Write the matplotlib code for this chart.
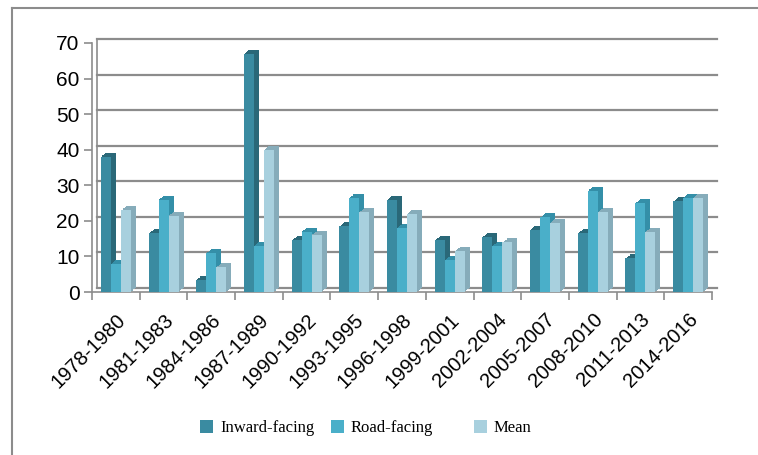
import matplotlib
matplotlib.use("Agg")
import matplotlib.pyplot as plt
import numpy as np
from matplotlib.transforms import offset_copy
from matplotlib.patches import Patch
from matplotlib.lines import Line2D

periods = ["1978-1980", "1981-1983", "1984-1986", "1987-1989", "1990-1992",
           "1993-1995", "1996-1998", "1999-2001", "2002-2004", "2005-2007",
           "2008-2010", "2011-2013", "2014-2016"]
inward = [38, 16.5, 3.5, 67, 14.5, 18.5, 26, 14.5, 15.5, 17.5, 16.5, 9.5, 25.5]
road = [8, 26, 11, 13, 17, 26.5, 18, 9, 13, 21, 28.5, 25, 26.5]
mean = [23, 21.5, 7, 40, 16, 22.5, 22, 11.5, 14, 19.5, 22.5, 17, 26.5]
series_names = ["Inward-facing", "Road-facing", "Mean"]
yticks = [0, 10, 20, 30, 40, 50, 60, 70]

front_cols = ["#3A8BA1", "#4AAFC9", "#A8D0DE"]
side_cols = ["#2A6878", "#348FA8", "#86ACBA"]

W, H = 758, 455
fig = plt.figure(figsize=(W / 100, H / 100), dpi=100)
ax = fig.add_axes([92 / W, 1 - 292 / H, 620 / W, 249 / H])
ax.set_xlim(-0.5, len(periods) - 0.5)
ax.set_ylim(0, 70)
for s in ax.spines.values():
    s.set_visible(False)

dx, dy = 5, 4  # depth in pixels
grid_tr = offset_copy(ax.get_yaxis_transform(), fig=fig, x=dx, y=dy, units='dots')
for v in yticks:
    ax.plot([0, 1], [v, v], color="#8C8C8C", lw=1.6, transform=grid_tr, zorder=0, clip_on=False)
# back wall left edge
ax.plot([0, 0], [0, 70], color="#8C8C8C", lw=1.2, transform=grid_tr, zorder=0, clip_on=False)
# front axis lines
ax.plot([0, 0], [0, 70], color="#8C8C8C", lw=1.2, transform=ax.get_yaxis_transform(), zorder=0, clip_on=False)
ax.plot([0, 1], [0, 0], color="#8C8C8C", lw=1.2, transform=ax.get_yaxis_transform(), zorder=0, clip_on=False)

x = np.arange(len(periods))
bw = 0.21
offsets = [-bw, 0, bw]
data = [inward, road, mean]
nsteps = 6
for i, (vals, off) in enumerate(zip(data, offsets)):
    for k in range(nsteps, 0, -1):
        tr = offset_copy(ax.transData, fig=fig, x=dx * k / nsteps, y=dy * k / nsteps, units='dots')
        ax.bar(x + off, vals, width=bw, color=side_cols[i], transform=tr, zorder=2 + i * 2, linewidth=0)
    ax.bar(x + off, vals, width=bw, color=front_cols[i], zorder=3 + i * 2, linewidth=0)

ax.set_yticks(yticks)
ax.set_yticklabels([str(v) for v in yticks], fontsize=15, family="Liberation Sans")
ax.tick_params(axis='y', length=6, color="#8C8C8C", width=1.2, pad=3)

ax.set_xticks(x)
ax.set_xticklabels(periods, rotation=45, ha='right', rotation_mode='anchor',
                   fontsize=14.5, family="Liberation Sans")
ax.tick_params(axis='x', which='major', length=0, pad=13)
ax.set_xticks(np.arange(len(periods) + 1) - 0.5, minor=True)
ax.tick_params(axis='x', which='minor', length=6, color="#8C8C8C", width=1.2)

# outer frame
fig.add_artist(Line2D([12 / W, 1], [1 - 8 / H, 1 - 8 / H], color="#8C8C8C", lw=1.5, transform=fig.transFigure))
fig.add_artist(Line2D([12 / W, 12 / W], [0, 1 - 8 / H], color="#8C8C8C", lw=1.5, transform=fig.transFigure))

legend_x = [200, 331, 474]
for name, col, lx in zip(series_names, front_cols, legend_x):
    fig.legend([Patch(facecolor=col, edgecolor='none')], [name], loc='center left',
               bbox_to_anchor=(lx / W, 1 - 428 / H), frameon=False,
               prop={'family': 'Liberation Serif', 'size': 12},
               handlelength=0.8, handleheight=0.8, handletextpad=0.4,
               borderaxespad=0, borderpad=0)

fig.savefig("out.png", dpi=100, facecolor="white")
